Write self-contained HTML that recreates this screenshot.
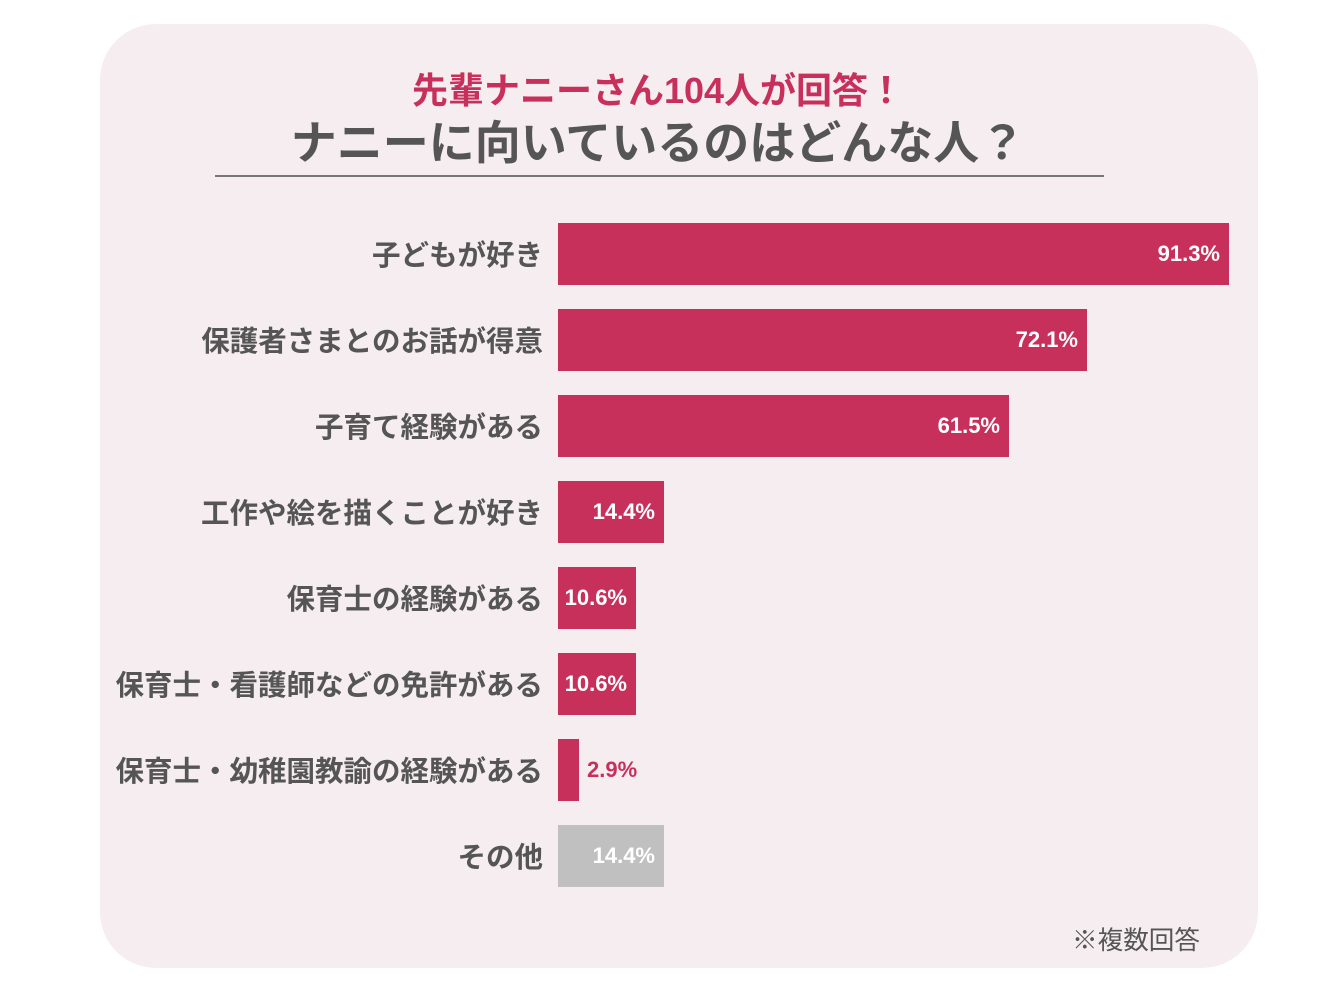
<!DOCTYPE html>
<html><head><meta charset="utf-8"><style>
body{margin:0;width:1320px;height:1000px;background:#fff;position:relative;font-family:"Liberation Sans","Noto Sans CJK JP",sans-serif;overflow:hidden}
.panel{position:absolute;left:100px;top:24px;width:1158px;height:944px;background:#f6edf1;border-radius:56px}
.t1{position:absolute;left:0;width:1316px;top:68px;text-align:center;font-size:36px;font-weight:bold;color:#c8305c;line-height:46px}
.t2{position:absolute;left:0;width:1316px;top:115px;text-align:center;font-size:46px;font-weight:bold;color:#555;line-height:56px}
.line{position:absolute;left:215px;width:889px;top:175px;height:2px;background:#777}
.lab{position:absolute;right:777px;font-size:28.5px;font-weight:bold;color:#555;line-height:62px;white-space:nowrap;margin-top:2px}
.bar{position:absolute;left:558px;height:62px;background:#c8305c}
.v{position:absolute;font-size:22px;font-weight:bold;color:#fff;line-height:62px}
.note{position:absolute;left:1072px;top:920px;font-size:25.6px;color:#555}
</style></head><body>
<div class="panel"></div>
<div class="t1">先輩ナニーさん104人が回答！</div>
<div class="t2">ナニーに向いているのはどんな人？</div>
<div class="line"></div>

<div class="lab" style="top:223px">子どもが好き</div>
<div class="bar" style="top:223px;width:671px"></div>
<div class="v" style="top:223px;right:100px">91.3%</div>

<div class="lab" style="top:309px">保護者さまとのお話が得意</div>
<div class="bar" style="top:309px;width:529px"></div>
<div class="v" style="top:309px;right:242px">72.1%</div>

<div class="lab" style="top:395px">子育て経験がある</div>
<div class="bar" style="top:395px;width:451px"></div>
<div class="v" style="top:395px;right:320px">61.5%</div>

<div class="lab" style="top:481px">工作や絵を描くことが好き</div>
<div class="bar" style="top:481px;width:106px"></div>
<div class="v" style="top:481px;right:665px">14.4%</div>

<div class="lab" style="top:567px">保育士の経験がある</div>
<div class="bar" style="top:567px;width:78px"></div>
<div class="v" style="top:567px;right:693px">10.6%</div>

<div class="lab" style="top:653px">保育士・看護師などの免許がある</div>
<div class="bar" style="top:653px;width:78px"></div>
<div class="v" style="top:653px;right:693px">10.6%</div>

<div class="lab" style="top:739px">保育士・幼稚園教諭の経験がある</div>
<div class="bar" style="top:739px;width:21px"></div>
<div class="v" style="top:739px;left:587px;color:#c8305c">2.9%</div>

<div class="lab" style="top:825px">その他</div>
<div class="bar" style="top:825px;width:106px;background:#c0c0c0"></div>
<div class="v" style="top:825px;right:665px">14.4%</div>

<div class="note">※複数回答</div>
</body></html>
